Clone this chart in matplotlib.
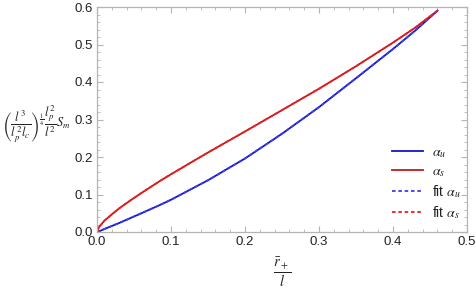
import matplotlib
matplotlib.use("Agg")
import matplotlib.pyplot as plt
from matplotlib.ticker import MultipleLocator

# data
x_vals = [0.0, 0.003, 0.01, 0.02, 0.03, 0.045, 0.06, 0.085, 0.1, 0.15, 0.2, 0.25, 0.3, 0.35, 0.4, 0.43, 0.46]
alpha_u = [0.0, 0.002, 0.008, 0.016, 0.024, 0.037, 0.05, 0.072, 0.086, 0.138, 0.196, 0.262, 0.333, 0.41, 0.488, 0.537, 0.59]
alpha_s = [0.0, 0.014, 0.03, 0.047, 0.063, 0.084, 0.104, 0.136, 0.154, 0.212, 0.268, 0.325, 0.382, 0.442, 0.505, 0.545, 0.59]
fit_u = alpha_u
fit_s = alpha_s
labels = [r"$\alpha_u$", r"$\alpha_s$", r"fit $\alpha_u$", r"fit $\alpha_s$"]
x_ticks = [0.0, 0.1, 0.2, 0.3, 0.4, 0.5]
y_ticks = [0.0, 0.1, 0.2, 0.3, 0.4, 0.5, 0.6]

plt.rcParams["mathtext.fontset"] = "stix"
plt.rcParams["font.family"] = ["Liberation Sans", "DejaVu Sans"]
fig = plt.figure(figsize=(4.76, 2.94), dpi=100)
ax = fig.add_axes([97/476, 1-232/294, 370/476, 225/294])

c_u = "#1414c8"
c_s = "#c01a1a"
ax.plot(x_vals, alpha_u, color=c_u, lw=1.3, label=labels[0])
ax.plot(x_vals, alpha_s, color=c_s, lw=1.3, label=labels[1])
ax.plot(x_vals, fit_u, color="#3c3cf0", lw=1.3, ls=(0, (2, 1.5)), label=labels[2])
ax.plot(x_vals, fit_s, color="#ee2020", lw=1.3, ls=(0, (2, 1.5)), label=labels[3])

ax.set_xlim(0, 0.5)
ax.set_ylim(0, 0.6)
ax.set_xticks(x_ticks)
ax.set_yticks(y_ticks)
ax.set_xticklabels([f"{v:.1f}" for v in x_ticks])
ax.set_yticklabels([f"{v:.1f}" for v in y_ticks])
ax.xaxis.set_minor_locator(MultipleLocator(0.02))
ax.yaxis.set_minor_locator(MultipleLocator(0.02))
for sp in ax.spines.values():
    sp.set_color("#b4b4b4")
    sp.set_linewidth(0.9)
ax.tick_params(which="both", direction="in", top=True, right=True, color="#b4b4b4",
               labelcolor="#222222", labelsize=9.5, pad=3)
ax.tick_params(which="major", length=4, width=0.8)
ax.tick_params(which="minor", length=2.2, width=0.6)
ax.tick_params(axis="y", which="both", labelright=False)
ax.tick_params(axis="x", which="both", labeltop=False)

fig.text(282/476, 1-272/294, r"$\dfrac{\bar{r}_+}{l}$", ha="center", va="center",
         fontsize=10.5, color="#222222")
fig.text(36/476, 1-124/294,
         r"$\left(\dfrac{l^3}{l_p^2 l_c}\right)^{\frac{1}{4}}\dfrac{l_p^2}{l^2}S_m$",
         ha="center", va="center", fontsize=9, color="#222222")

leg = ax.legend(loc="center left", bbox_to_anchor=(392/476, 1-183/294),
                bbox_transform=fig.transFigure, frameon=False, fontsize=10,
                handlelength=2.2, handletextpad=0.7, labelspacing=0.3,
                borderaxespad=0, borderpad=0)
for t in leg.get_texts():
    t.set_color("#222222")

fig.savefig("out.png", dpi=100)
